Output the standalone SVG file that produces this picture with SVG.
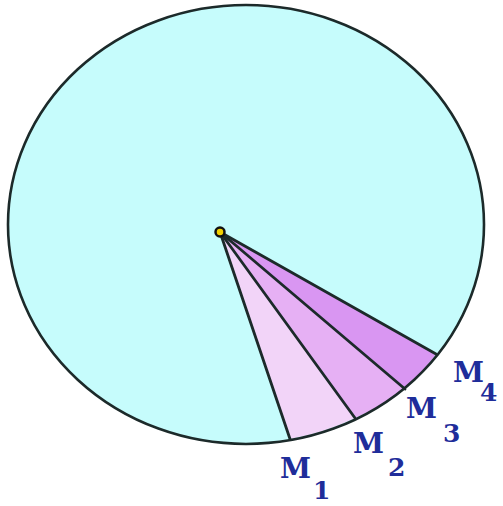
<svg xmlns="http://www.w3.org/2000/svg" width="503" height="506" viewBox="0 0 503 506">
<style>
.edge{stroke:#1c2a2a;stroke-width:2.8;fill:none;stroke-linecap:round}
.lbl{font-family:"DejaVu Serif",serif;font-weight:bold;fill:#1f2d9a;font-size:28px}
.sub{font-family:"DejaVu Serif",serif;font-weight:bold;fill:#1f2d9a;font-size:25px}
</style>
<rect width="503" height="506" fill="#ffffff"/>
<g id="disk">
<ellipse cx="246" cy="224.5" rx="238" ry="219.5" fill="#c6fcfc"/>
</g>
<g id="sectors">
<path id="sector1" d="M220,232 L290,439 A238,219.5 0 0 0 355,418 Z" fill="#f2d4f8"/>
<path id="sector2" d="M220,232 L355,418 A238,219.5 0 0 0 405,389 Z" fill="#e6b0f4"/>
<path id="sector3" d="M220,232 L405,389 A238,219.5 0 0 0 436,354 Z" fill="#d996f2"/>
</g>
<g id="connectors">
<line class="edge" x1="220" y1="232" x2="290" y2="439"/>
<line class="edge" x1="220" y1="232" x2="355" y2="418"/>
<line class="edge" x1="220" y1="232" x2="405" y2="389"/>
<line class="edge" x1="220" y1="232" x2="436" y2="354"/>
</g>
<g id="outline">
<ellipse cx="246" cy="224.5" rx="238" ry="219.5" fill="none" stroke="#1c2a2a" stroke-width="2.6"/>
</g>
<g id="center">
<circle cx="220" cy="232" r="4.5" fill="#f2d000" stroke="#111111" stroke-width="2.5"/>
</g>
<g id="labelM1"><text class="lbl" x="280" y="478">M</text><text class="sub" x="313" y="499">1</text></g>
<g id="labelM2"><text class="lbl" x="353" y="453">M</text><text class="sub" x="388" y="476">2</text></g>
<g id="labelM3"><text class="lbl" x="406" y="418">M</text><text class="sub" x="443" y="442">3</text></g>
<g id="labelM4"><text class="lbl" x="453" y="382">M</text><text class="sub" x="480" y="401">4</text></g>
</svg>
